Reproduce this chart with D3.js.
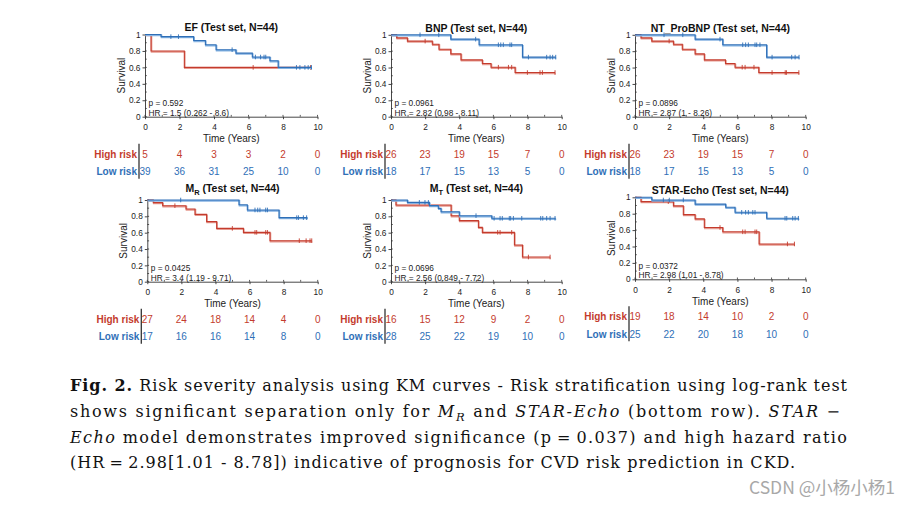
<!DOCTYPE html>
<html><head><meta charset="utf-8">
<script src="https://cdn.jsdelivr.net/npm/d3@7"></script>
<style>body{margin:0;background:#fff}svg{display:block}text{white-space:pre}</style>
</head><body><svg id="c" width="911" height="506"></svg>
<script>
// ---------- data ----------
const timeTicks = [0, 2, 4, 6, 8, 10];
const survTicks = [0, 0.2, 0.4, 0.6, 0.8, 1];
const panelNames = ["EF", "BNP", "NT_ProBNP", "M", "M", "STAR-Echo"];
const panelSubs = ["", "", "", "R", "T", ""];
const pValues = ["0.592", "0.0961", "0.0896", "0.0425", "0.0696", "0.0372"];
const hrValues = ["1.5 (0.262 - 8.6)", "2.82 (0.98 - 8.11)", "2.87 (1 - 8.26)", "3.4 (1.19 - 9.71)", "2.56 (0.849 - 7.72)", "2.98 (1.01 - 8.78)"];
const highRiskCounts = [[5,4,3,3,2,0],[26,23,19,15,7,0],[26,23,19,15,7,0],[27,24,18,14,4,0],[16,15,12,9,2,0],[19,18,14,10,2,0]];
const lowRiskCounts = [[39,36,31,25,10,0],[18,17,15,13,5,0],[18,17,15,13,5,0],[17,16,16,14,8,0],[28,25,22,19,10,0],[25,22,20,18,10,0]];

// step points [time, survival], end time, censor times
const efHigh = [[0,1],[0.35,0.8],[2.28,0.6]];
const efHighEnd = 9.6, efHighCens = [6.27, 9.6];
const efLow = [[0,1],[0.93,0.974],[2.82,0.927],[3.5,0.875],[4.12,0.815],[5.27,0.774],[6.22,0.726],[7.24,0.681],[7.72,0.6]];
const efLowEnd = 9.65, efLowCens = [1.5,1.94,5.05,6.4,6.7,6.9,7.0,8.78,8.98,9.27,9.46,9.65];

const bnpHigh = [[0,1],[0.33,0.962],[0.96,0.923],[2.42,0.885],[2.81,0.824],[3.5,0.767],[4.1,0.694],[5.35,0.649],[5.86,0.604],[7.27,0.539]];
const bnpHighEnd = 9.61, bnpHighCens = [2.0,6.29,6.88,7.07,7.99,8.73,8.87,9.61];
const bnpLow = [[0,1],[3.5,0.947],[5.16,0.878],[7.7,0.727]];
const bnpLowEnd = 9.65, bnpLowCens = [1.7,2.8,4.96,6.29,6.43,6.58,6.97,7.07,8.05,9.12,9.32,9.47,9.65];

const ntHigh = [[0,1],[0.35,0.962],[0.98,0.923],[2.25,0.885],[2.77,0.824],[3.52,0.767],[4.06,0.694],[5.3,0.649],[5.86,0.604],[7.25,0.539]];
const ntHighEnd = 9.6, ntHighCens = [2.0,6.28,6.45,6.97,8.03,8.8,8.87,9.6];
const ntLow = [[0,1],[3.52,0.947],[5.14,0.878],[7.71,0.727]];
const ntLowEnd = 9.61, ntLowCens = [1.7,2.8,4.98,6.31,6.48,6.64,7.03,7.13,7.32,8.03,9.18,9.38,9.61];

const mrHigh = [[0,1],[0.35,0.968],[0.9,0.93],[2.27,0.89],[2.8,0.824],[3.48,0.735],[4.07,0.653],[5.64,0.604],[7.2,0.502]];
const mrHighEnd = 9.65, mrHighCens = [1.62,4.99,6.32,6.42,6.95,7.05,8.92,9.32,9.55,9.65];
const mrLow = [[0,1],[5.38,0.941],[5.87,0.878],[7.73,0.784]];
const mrLowEnd = 9.4, mrLowCens = [1.96,6.32,6.48,6.61,6.95,7.05,8.77,8.87,9.16,9.35];

const mtHigh = [[0,1],[0.29,0.939],[3.52,0.808],[4.0,0.747],[5.12,0.665],[5.35,0.604],[7.23,0.449],[7.7,0.302]];
const mtHighEnd = 9.32, mtHighCens = [6.25,6.39,7.07,8.05,9.32];
const mtLow = [[0,1],[0.96,0.971],[2.25,0.931],[2.77,0.898],[2.93,0.857],[4.0,0.808],[5.9,0.776]];
const mtLowEnd = 9.65, mtLowCens = [1.66,1.99,2.19,4.98,6.04,6.39,6.52,6.93,7.01,7.17,7.66,8.77,8.89,9.12,9.32,9.61];

const seHigh = [[0,1],[0.35,0.947],[2.25,0.895],[2.83,0.789],[3.52,0.737],[4.06,0.632],[5.14,0.579],[7.27,0.431]];
const seHighEnd = 9.34, seHighCens = [1.95,4.98,6.31,6.45,7.03,7.13,8.93,9.34];
const seLow = [[0,1],[0.98,0.967],[3.52,0.917],[5.31,0.878],[5.86,0.817],[7.71,0.744]];
const seLowEnd = 9.6, seLowCens = [1.66,2.01,2.83,6.25,6.48,6.64,6.9,7.03,8.79,8.89,9.24,9.38,9.57];

const highSteps = [efHigh, bnpHigh, ntHigh, mrHigh, mtHigh, seHigh];
const highEnds = [efHighEnd, bnpHighEnd, ntHighEnd, mrHighEnd, mtHighEnd, seHighEnd];
const highCens = [efHighCens, bnpHighCens, ntHighCens, mrHighCens, mtHighCens, seHighCens];
const lowSteps = [efLow, bnpLow, ntLow, mrLow, mtLow, seLow];
const lowEnds = [efLowEnd, bnpLowEnd, ntLowEnd, mrLowEnd, mtLowEnd, seLowEnd];
const lowCens = [efLowCens, bnpLowCens, ntLowCens, mrLowCens, mtLowCens, seLowCens];

// ---------- layout ----------
const layout = [
  {x0:145, x1:317.5, top:34.5, bot:116.7, tdy:-3.2},
  {x0:391, x1:561.7, top:34.8, bot:116.7, tdy:-3.2},
  {x0:635, x1:805.7, top:34.8, bot:116.7, tdy:-3.2},
  {x0:147.3, x1:317.7, top:200, bot:281.7, tdy:-8},
  {x0:391, x1:561.7, top:200, bot:281.7, tdy:-8},
  {x0:635, x1:805.7, top:197.3, bot:279.3, tdy:-3.2}
];
const RED = "#c43b2d", BLUE = "#2f6fb7", RED_L = "#e69a90", BLUE_L = "#86b3e2";
const FONT = "'Liberation Sans', Arial, Helvetica, sans-serif";

const svg = d3.select("#c");
svg.append("rect").attr("width",911).attr("height",506).attr("fill","#fff");

function survAt(steps, t){ let s = 1; for (const p of steps) if (p[0] <= t) s = p[1]; return s; }

layout.forEach((L, i) => {
  const g = svg.append("g");
  const x = d3.scaleLinear().domain([0,10]).range([L.x0, L.x1]);
  const y = d3.scaleLinear().domain([0,1]).range([L.bot, L.top]);

  // title
  const tt = g.append("text").attr("x", (L.x0+L.x1)/2).attr("y", L.top + L.tdy)
    .attr("text-anchor","middle").attr("font-family",FONT).attr("font-size",10.5)
    .attr("font-weight","bold").attr("fill","#111");
  tt.append("tspan").text(panelNames[i]);
  if (panelSubs[i]) {
    tt.append("tspan").attr("font-size",7.5).attr("dy",3).text(panelSubs[i]);
    tt.append("tspan").attr("dy",-3).text(" (Test set, N=44)");
  } else tt.append("tspan").text(" (Test set, N=44)");

  // axes
  const yAxis = d3.axisLeft(y).tickValues(survTicks).tickSizeInner(2.5).tickSizeOuter(0).tickPadding(2)
    .tickFormat(d => (d===0||d===1) ? String(d) : d.toFixed(1));
  const ya = g.append("g").attr("transform",`translate(${L.x0},0)`).call(yAxis);
  const xAxis = d3.axisBottom(x).tickValues(timeTicks).tickSizeInner(2.5).tickSizeOuter(0).tickPadding(5)
    .tickFormat(d3.format("d"));
  const xa = g.append("g").attr("transform",`translate(0,${L.bot})`).call(xAxis);
  [ya, xa].forEach(a => {
    a.select(".domain").attr("stroke","#333").attr("stroke-width",0.9);
    a.selectAll(".tick line").attr("stroke","#333").attr("stroke-width",0.9);
    a.selectAll("text").attr("font-family",FONT).attr("font-size",8.3).attr("fill","#222");
  });
  // minor ticks (inside)
  const minorY = d3.range(0, 1.0001, 0.1);
  g.selectAll(null).data(minorY).enter().append("line")
    .attr("x1",L.x0).attr("x2",L.x0+1.8).attr("y1",d=>y(d)).attr("y2",d=>y(d))
    .attr("stroke","#333").attr("stroke-width",0.8);
  const minorX = d3.range(0, 10.001, 1);
  g.selectAll(null).data(minorX).enter().append("line")
    .attr("x1",d=>x(d)).attr("x2",d=>x(d)).attr("y1",L.bot).attr("y2",L.bot-1.8)
    .attr("stroke","#333").attr("stroke-width",0.8);

  // axis labels
  g.append("text").attr("x",(L.x0+L.x1)/2).attr("y",L.bot+25.5).attr("text-anchor","middle")
    .attr("font-family",FONT).attr("font-size",10).attr("fill","#222").text("Time (Years)");
  g.append("text").attr("transform",`translate(${L.x0-20},${(L.top+L.bot)/2}) rotate(-90)`)
    .attr("text-anchor","middle").attr("font-family",FONT).attr("font-size",10).attr("fill","#222").text("Survival");

  // curves
  const line = d3.line().x(d=>x(d[0])).y(d=>y(d[1])).curve(d3.curveStepAfter);
  const series = [
    {steps: highSteps[i], end: highEnds[i], cens: highCens[i], c: RED, cl: RED_L},
    {steps: lowSteps[i], end: lowEnds[i], cens: lowCens[i], c: BLUE, cl: BLUE_L}
  ];
  series.forEach(s => {
    const pts = s.steps.concat([[s.end, s.steps[s.steps.length-1][1]]]);
    g.append("path").datum(pts).attr("d",line).attr("fill","none")
      .attr("stroke",s.cl).attr("stroke-width",1.6).attr("transform","translate(0.5,0.9)");
    g.append("path").datum(pts).attr("d",line).attr("fill","none")
      .attr("stroke",s.c).attr("stroke-width",1.1);
    g.selectAll(null).data(s.cens).enter().append("line")
      .attr("x1",d=>x(d)).attr("x2",d=>x(d))
      .attr("y1",d=>y(survAt(s.steps,d))-2.3).attr("y2",d=>y(survAt(s.steps,d))+2.3)
      .attr("stroke",s.c).attr("stroke-width",0.9);
  });

  // stats
  g.append("text").attr("x",L.x0+3.5).attr("y",L.bot-10.5).attr("font-family",FONT)
    .attr("font-size",8.3).attr("fill","#222").text("p = " + pValues[i]);
  g.append("text").attr("x",L.x0+3.5).attr("y",L.bot-1).attr("font-family",FONT)
    .attr("font-size",8.3).attr("fill","#222").text("HR = " + hrValues[i]);

  // risk table
  g.append("line").attr("x1",L.x0-6).attr("x2",L.x0-6).attr("y1",L.bot+27).attr("y2",L.bot+62)
    .attr("stroke","#333").attr("stroke-width",1.3);
  g.append("text").attr("x",L.x0-8).attr("y",L.bot+41).attr("text-anchor","end").attr("font-family",FONT)
    .attr("font-size",10).attr("font-weight","bold").attr("fill",RED).text("High risk");
  g.append("text").attr("x",L.x0-8).attr("y",L.bot+58.5).attr("text-anchor","end").attr("font-family",FONT)
    .attr("font-size",10).attr("font-weight","bold").attr("fill",BLUE).text("Low risk");
  g.selectAll(null).data(highRiskCounts[i]).enter().append("text")
    .attr("x",(d,k)=>x(timeTicks[k])).attr("y",L.bot+41).attr("text-anchor","middle")
    .attr("font-family",FONT).attr("font-size",10).attr("fill",RED).text(d=>d);
  g.selectAll(null).data(lowRiskCounts[i]).enter().append("text")
    .attr("x",(d,k)=>x(timeTicks[k])).attr("y",L.bot+58.5).attr("text-anchor","middle")
    .attr("font-family",FONT).attr("font-size",10).attr("fill",BLUE).text(d=>d);
});

// ---------- caption ----------
const SERIF = "'DejaVu Serif', 'Liberation Serif', serif";
const cap = svg.append("g").attr("font-family",SERIF).attr("font-size",16).attr("fill","#111");
const l1 = cap.append("text").attr("x",70).attr("y",391.3).attr("textLength",777).attr("lengthAdjust","spacing");
l1.append("tspan").attr("font-weight","bold").text("Fig. 2.");
l1.append("tspan").text(" Risk severity analysis using KM curves - Risk stratification using log-rank test");
const l2 = cap.append("text").attr("x",70).attr("y",417).attr("textLength",770).attr("lengthAdjust","spacing");
l2.append("tspan").text("shows significant separation only for ");
l2.append("tspan").attr("font-style","italic").text("M");
l2.append("tspan").attr("font-style","italic").attr("font-size",11.5).attr("dy",3.5).text("R");
l2.append("tspan").attr("dy",-3.5).text(" and ");
l2.append("tspan").attr("font-style","italic").text("STAR-Echo");
l2.append("tspan").text(" (bottom row). ");
l2.append("tspan").attr("font-style","italic").text("STAR");
l2.append("tspan").text(" \u2212");
const l3 = cap.append("text").attr("x",70).attr("y",442.7).attr("textLength",777).attr("lengthAdjust","spacing");
l3.append("tspan").attr("font-style","italic").text("Echo");
l3.append("tspan").text(" model demonstrates improved significance (p\u2009=\u20090.037) and high hazard ratio");
cap.append("text").attr("x",70).attr("y",468.4).attr("textLength",725).attr("lengthAdjust","spacing")
  .text("(HR\u2009=\u20092.98[1.01 - 8.78]) indicative of prognosis for CVD risk prediction in CKD.");

// watermark
svg.append("text").attr("x",895).attr("y",493.5).attr("text-anchor","end")
  .attr("font-family","'Noto Sans CJK SC', 'Noto Sans', sans-serif").attr("font-size",17.5)
  .attr("fill","#a8a8a8").text("CSDN @小杨小杨1");
</script></body></html>
